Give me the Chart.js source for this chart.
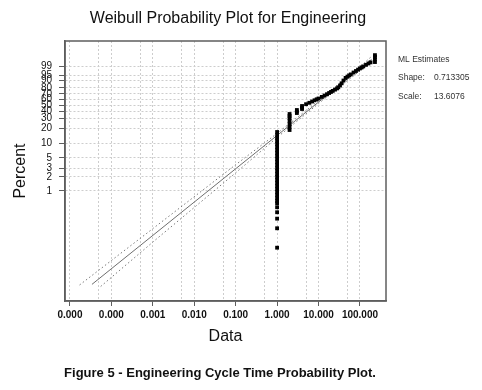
<!DOCTYPE html>
<html>
<head>
<meta charset="utf-8">
<script src="https://cdn.jsdelivr.net/npm/chart.js@4"></script>
<style>
  html, body { margin: 0; padding: 0; background: #fff; }
  #wrap { width: 482px; height: 390px; }
</style>
</head>
<body>
<div id="wrap"><canvas id="plot" width="482" height="390"></canvas></div>
<script>
// cycle times with many ties (days) and their plotted percents
const tiedTimes = [1, 2, 3, 4, 230];
const tiedPercents = [
    [0.0615, 0.160, 0.257, 0.352, 0.450, 0.548, 0.614, 0.710, 0.823, 0.953, 1.104,
     1.277, 1.480, 1.714, 1.984, 2.294, 2.656, 3.073, 3.554, 4.109, 4.745, 5.481,
     6.327, 7.297, 8.404, 9.679, 11.13, 12.79, 14.67, 16.79],
    [18.36, 20.97, 23.86, 27.10, 30.67, 33.27, 35.99],
    [37.41, 39.63, 41.92],
    [43.48, 45.91, 48.40],
    [99.69, 99.86, 99.94, 99.97]
];
// upper part of the sample
const curveTimes = [5, 6, 7, 8, 9, 10, 12, 14, 16, 18, 20, 22, 25, 28, 30, 33, 36, 40,
    45, 50, 55, 60, 70, 80, 90, 100, 110, 120, 140, 160, 180];
const curvePercents = [51.49, 53.92, 56.22, 58.37, 60.16, 61.63, 64.50, 67.03, 69.36,
    71.52, 73.44, 75.15, 77.34, 79.29, 81.03, 83.74, 86.79, 90.20, 92.87, 94.03, 94.97,
    95.67, 96.81, 97.55, 98.12, 98.52, 98.81, 99.05, 99.35, 99.54, 99.66];

// ML fit and confidence bounds
const fitTimes = [3.4e-5, 190];
const fitPercents = [0.0101, 99.857];
const upperTimes = [1.71e-5, 0.001, 0.1, 1, 10, 100, 190];
const upperPercents = [0.0098, 0.157, 3.60, 15.78, 57.85, 98.98, 99.95];
const lowerTimes = [5.52e-5, 0.001, 0.1, 1, 10, 100, 190];
const lowerPercents = [0.0091, 0.081, 2.43, 13.12, 52.54, 97.66, 99.65];

// axes
const percentTicks = [1, 2, 3, 5, 10, 20, 30, 40, 50, 60, 70, 80, 90, 95, 99];
const timeTicks = [0.00001, 0.0001, 0.001, 0.01, 0.1, 1, 10, 100];
const timeMinorGrid = [0.00005, 0.0005, 0.005, 0.05, 0.5, 5, 50];

const estimateNames = ['Shape:', 'Scale:'];
const estimateValues = ['0.713305', '13.6076'];

const FONT = '"Liberation Sans", Arial, Helvetica, sans-serif';
const gridColor = '#cdcdcd';
const frameColor = '#5e5e5e';

// weibull probability paper: ln(-ln(1-p))
function wb(pct) {
    return Math.log(-Math.log(1 - pct / 100));
}

function toPoints(times, pcts) {
    return times.map((t, i) => ({ x: t, y: wb(pcts[i]) }));
}

const obsPoints = [];
tiedTimes.forEach((t, i) => {
    tiedPercents[i].forEach(p => obsPoints.push({ x: t, y: wb(p) }));
});
curveTimes.forEach((t, i) => obsPoints.push({ x: t, y: wb(curvePercents[i]) }));

const majorTimes = new Set(timeTicks);

const paperText = {
    id: 'paperText',
    afterDraw(chart) {
        const ctx = chart.ctx;
        const a = chart.chartArea;
        ctx.save();
        ctx.strokeStyle = frameColor;
        ctx.lineWidth = 1.5;
        ctx.strokeRect(a.left, a.top, a.right - a.left, a.bottom - a.top);

        ctx.fillStyle = '#111';
        ctx.textBaseline = 'middle';
        ctx.textAlign = 'center';
        ctx.font = '16px ' + FONT;
        ctx.fillText('Weibull Probability Plot for Engineering', 228, 19);

        ctx.font = 'bold 13px ' + FONT;
        ctx.fillText('Figure 5 - Engineering Cycle Time Probability Plot.', 220, 373);

        ctx.textAlign = 'left';
        ctx.fillStyle = '#333';
        ctx.font = '8.5px ' + FONT;
        ctx.fillText('ML Estimates', 398, 60);
        estimateNames.forEach((n, i) => {
            ctx.fillText(n, 398, 78 + i * 19);
            ctx.fillText(estimateValues[i], 434, 78 + i * 19);
        });
        ctx.restore();
    }
};

new Chart(document.getElementById('plot'), {
    type: 'scatter',
    data: {
        datasets: [{
            data: obsPoints,
            pointStyle: 'rect',
            pointRadius: 2.7,
            pointHoverRadius: 2.7,
            pointBackgroundColor: '#000',
            pointBorderWidth: 0,
            showLine: false
        }, {
            data: toPoints(fitTimes, fitPercents),
            showLine: true,
            borderColor: '#6e6e6e',
            borderWidth: 1,
            pointRadius: 0
        }, {
            data: toPoints(upperTimes, upperPercents),
            showLine: true,
            borderColor: '#7a7a7a',
            borderWidth: 1,
            borderDash: [1.5, 2.5],
            pointRadius: 0
        }, {
            data: toPoints(lowerTimes, lowerPercents),
            showLine: true,
            borderColor: '#7a7a7a',
            borderWidth: 1,
            borderDash: [1.5, 2.5],
            pointRadius: 0
        }]
    },
    options: {
        responsive: false,
        animation: false,
        devicePixelRatio: 1,
        layout: { padding: { top: 41, right: 96, bottom: 0, left: 0 } },
        plugins: { legend: { display: false }, tooltip: { enabled: false } },
        scales: {
            x: {
                type: 'logarithmic',
                min: 7.6e-6,
                max: 425,
                bounds: 'data',
                afterBuildTicks: s => {
                    s.ticks = timeTicks.concat(timeMinorGrid)
                        .sort((p, q) => p - q)
                        .map(v => ({ value: v }));
                },
                afterFit: s => { s.height = 89; },
                grid: {
                    color: gridColor,
                    tickLength: 5,
                    tickColor: c => (c.tick && majorTimes.has(c.tick.value)) ? frameColor : 'rgba(0,0,0,0)'
                },
                border: { display: true, color: frameColor, width: 1.5, dash: [2, 2] },
                ticks: {
                    autoSkip: false,
                    maxRotation: 0,
                    padding: 3,
                    color: '#111',
                    font: { family: FONT, size: 10, weight: 'bold' },
                    callback: v => majorTimes.has(v) ? v.toFixed(3) : ''
                },
                title: {
                    display: true,
                    text: 'Data',
                    color: '#111',
                    font: { family: FONT, size: 16 },
                    padding: { top: 0, bottom: 44 }
                }
            },
            y: {
                type: 'linear',
                min: -10.02,
                max: 2.79,
                bounds: 'data',
                afterBuildTicks: s => {
                    s.ticks = percentTicks.map(p => ({ value: wb(p) }));
                },
                afterFit: s => { s.width = 65; },
                grid: { color: gridColor, tickLength: 6, tickColor: frameColor },
                border: { display: true, color: frameColor, width: 1.5, dash: [2, 2] },
                ticks: {
                    autoSkip: false,
                    padding: 7,
                    color: '#111',
                    font: { family: FONT, size: 10 },
                    callback: (v, i) => String(percentTicks[i])
                },
                title: {
                    display: true,
                    text: 'Percent',
                    color: '#111',
                    font: { family: FONT, size: 16 },
                    padding: { top: 11, bottom: 0 }
                }
            }
        }
    },
    plugins: [paperText]
});
</script>
</body>
</html>
